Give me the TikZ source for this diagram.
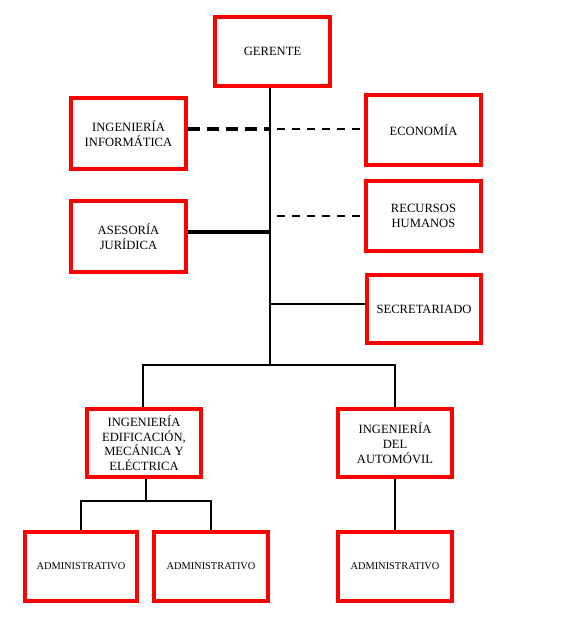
\documentclass[tikz,border=0pt]{standalone}
\usepackage{fontspec}
\setmainfont{Liberation Serif}
\begin{document}
\begin{tikzpicture}[x=1pt,y=-1pt,
  box/.style={draw=red,line width=4pt,minimum width=115pt,minimum height=70pt,align=center,font=\fontsize{12.6}{14.7}\selectfont,inner sep=2pt},
  adm/.style={box,minimum width=114pt,minimum height=69pt,font=\fontsize{10.4}{12}\selectfont},
  conn/.style={line width=2.4pt},
  heavy/.style={line width=4pt},
  thindash/.style={line width=2.2pt,dash pattern=on 8pt off 7pt},
  heavydash/.style={line width=4pt,dash pattern=on 12pt off 7pt}]
\useasboundingbox (0,0) rectangle (562,626);
% boxes
\node[box,minimum height=69pt] (ger) at (272.5,51.5) {GERENTE};
\node[box,minimum height=71pt] (inf) at (128.5,133.5) {INGENIERÍA\\INFORMÁTICA};
\node[box] (eco) at (423.5,130) {ECONOMÍA};
\node[box] (rrhh) at (423.5,216) {RECURSOS\\HUMANOS};
\node[box,minimum height=71pt] (ase) at (128.5,236.5) {ASESORÍA\\JURÍDICA};
\node[box,minimum width=114pt,minimum height=68pt] (sec) at (424,309) {SECRETARIADO};
\node[box,minimum width=114pt,minimum height=68pt] (edi) at (144,443) {INGENIERÍA\\EDIFICACIÓN,\\MECÁNICA Y\\ELÉCTRICA};
\node[box,minimum width=114pt,minimum height=68pt] (aut) at (395,443) {INGENIERÍA\\DEL\\AUTOMÓVIL};
\node[adm,minimum width=112pt] (adm1) at (81,566.5) {ADMINISTRATIVO};
\node[adm] (adm2) at (211,566.5) {ADMINISTRATIVO};
\node[adm] (adm3) at (395,566.5) {ADMINISTRATIVO};
% helper coordinates
\coordinate (trunk) at (270,365);
\coordinate (tx) at (277,0);
\coordinate (yinf) at (0,129);
\coordinate (yrh) at (0,216);
\coordinate (yase) at (0,232);
\coordinate (ysec) at (0,304);
\coordinate (sub) at (146,501);
% trunk
\draw[conn] (ger.south -| trunk) -- (trunk);
% side branches
\draw[heavydash] (inf.east |- yinf) -- (trunk |- yinf);
\draw[thindash] (tx |- yinf) -- (eco.west |- yinf);
\draw[thindash] (tx |- yrh) -- (rrhh.west |- yrh);
\draw[heavy] (ase.east |- yase) -- (trunk |- yase);
\draw[conn] (trunk |- ysec) -- (sec.west |- ysec);
% lower bus
\draw[conn] (edi.north -| 143,0) |- (trunk) -| (aut.north);
% sub-bus
\draw[conn] (edi.south -| sub) -- (sub);
\draw[conn] (adm1.north) |- (sub) -| (adm2.north);
\draw[conn] (aut.south) -- (adm3.north);
\end{tikzpicture}
\end{document}
